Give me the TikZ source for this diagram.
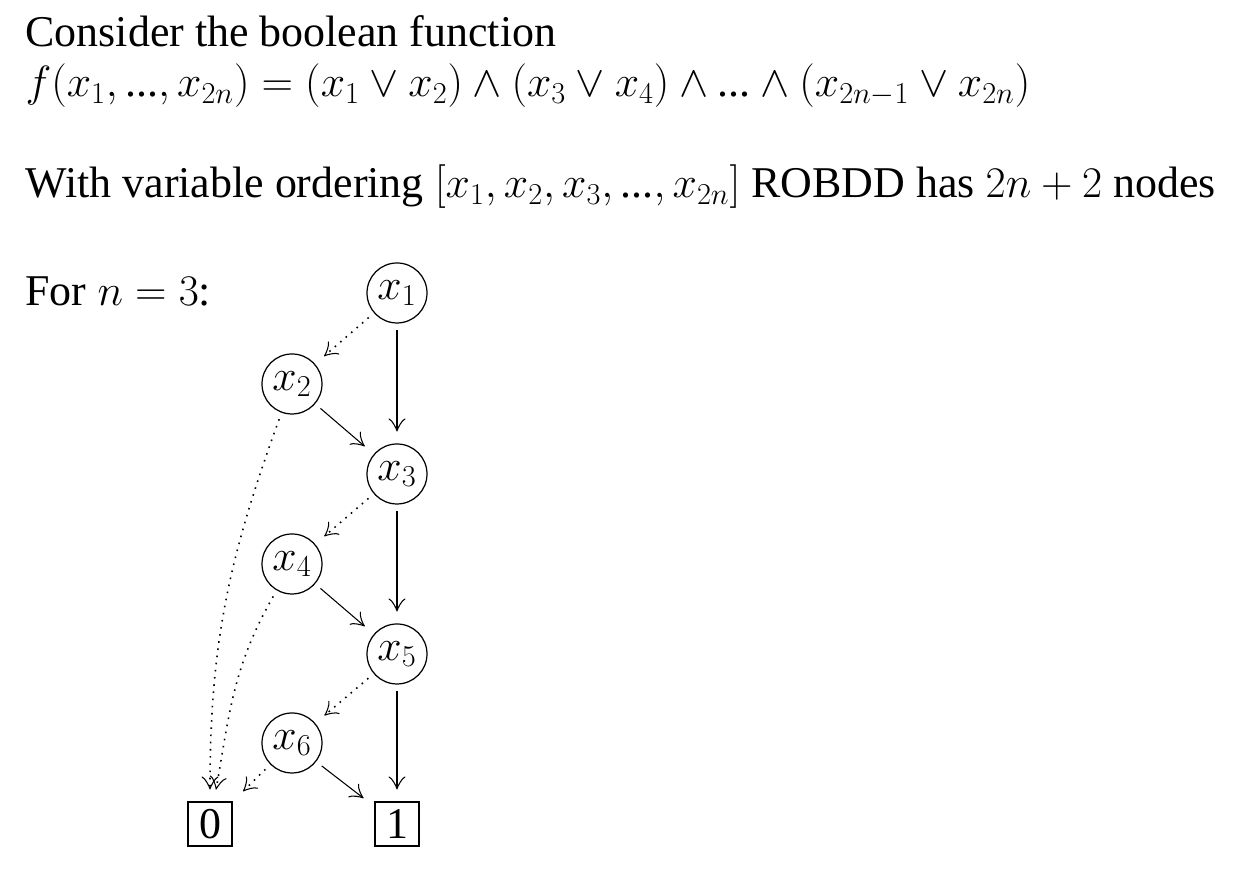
\documentclass[tikz,border=0pt]{standalone}
\usepackage{fontspec}
\setmainfont{Liberation Serif}
\usepackage{tikz}
\usetikzlibrary{positioning,arrows.meta}

\newcommand{\tdots}{\textrm{...}}

\begin{document}
\begin{tikzpicture}[
    x=0.02cm, y=0.02cm,
    line width=0.6pt,
    font=\fontsize{25}{30}\selectfont,
    textline/.style={anchor=base west, inner sep=0pt},
    varnode/.style={
      circle,
      draw,
      line width=0.7pt,
      minimum size=1.2cm,
      inner sep=0pt,
      outer sep=0.15cm
    },
    termnode/.style={
      rectangle,
      draw,
      line width=0.7pt,
      minimum size=0.88cm,
      inner sep=0pt,
      outer sep=0.15cm
    },
    tip/.style={-{Classical TikZ Rightarrow[length=0.26cm, width=0.34cm, line width=0.6pt]}},
    hiedge/.style={tip, shorten >=0.1cm},
    loedge/.style={tip, line width=0.9pt, dash pattern=on 0.9pt off 3.2pt, shorten >=0.1cm}
  ]
    \useasboundingbox (0,0) rectangle (1238,888);

    % text above the diagram
    \node[textline] (intro) at (25,841) {Consider the boolean function};
    \node[textline] (func) at (25,791)
      {$f(x_1, \tdots, x_{2n}) = (x_1 \vee x_2) \wedge (x_3 \vee x_4) \wedge \tdots \wedge (x_{2n-1} \vee x_{2n})$};
    \node[textline] (order) at (25,690)
      {With variable ordering $[x_1, x_2, x_3, \tdots, x_{2n}]$ ROBDD has $2n+2$ nodes};
    \node[textline] (example) at (25,582) {For $n=3$:};

    % ROBDD for n = 3
    \node[varnode] (x1) at (397,595) {$x_1$};
    \node[varnode] (x2) at (292,504) {$x_2$};
    \node[varnode] (x3) at (397,414) {$x_3$};
    \node[varnode] (x4) at (292,324) {$x_4$};
    \node[varnode] (x5) at (397,234) {$x_5$};
    \node[varnode] (x6) at (292,145) {$x_6$};
    \node[termnode] (zero) at (210,64) {0};
    \node[termnode] (one) at (397,64) {1};

    \draw[loedge] (x1) -- (x2);
    \draw[hiedge] (x1) -- (x3);
    \draw[hiedge] (x2) -- (x3);
    \draw[loedge] (x2) to[out=250, in=90] (zero);
    \draw[loedge] (x3) -- (x4);
    \draw[hiedge] (x3) -- (x5);
    \draw[hiedge] (x4) -- (x5);
    \draw[loedge] (x4) to[out=240, in=80] (zero);
    \draw[loedge] (x5) -- (x6);
    \draw[hiedge] (x5) -- (one);
    \draw[loedge] (x6) -- (zero);
    \draw[hiedge] (x6) -- (one);
  \end{tikzpicture}
\end{document}
